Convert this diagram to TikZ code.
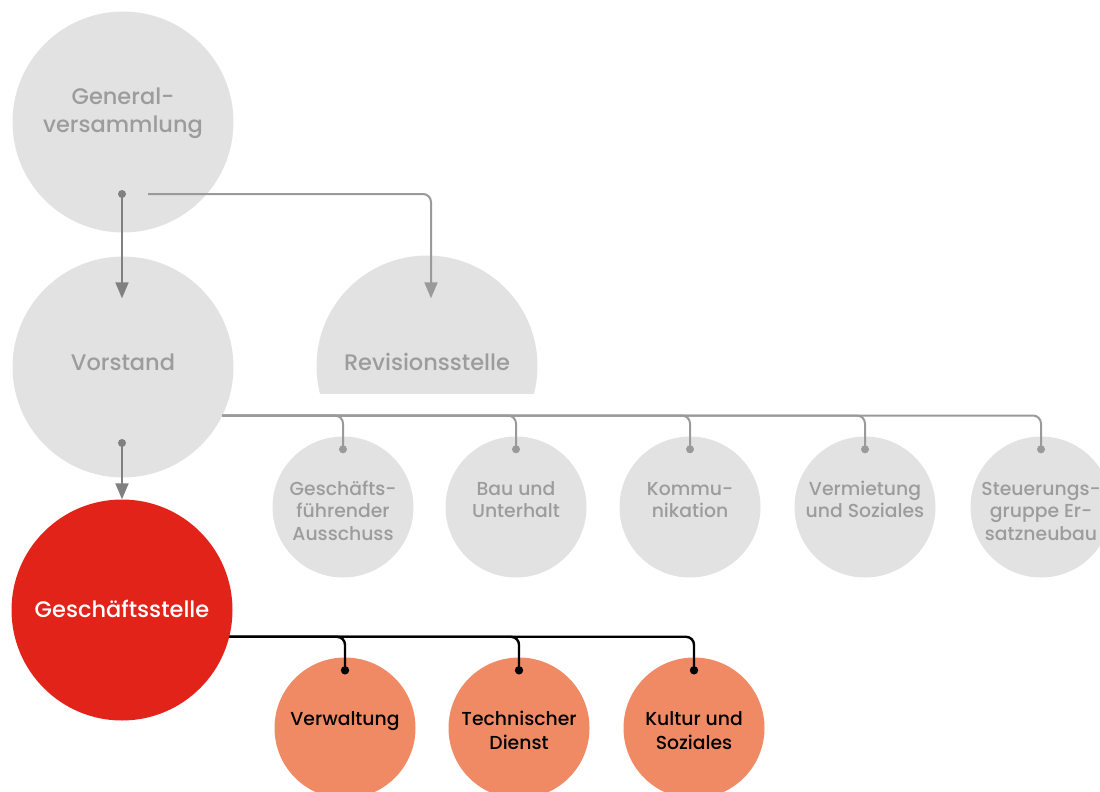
\documentclass[tikz,border=0pt]{standalone}
\usepackage{fontspec}
\setmainfont{Poppins}[UprightFont=* Medium]
\usetikzlibrary{arrows.meta,calc}

\definecolor{orggrey}{HTML}{E2E2E2}
\definecolor{orgtext}{HTML}{9C9C9C}
\definecolor{orgline}{HTML}{9A9A9A}
\definecolor{orgdark}{HTML}{808080}
\definecolor{orgred}{HTML}{E2231A}
\definecolor{orgorange}{HTML}{F08A65}

\begin{document}
\begin{tikzpicture}[x=1pt, y=-1pt, every node/.style={inner sep=0pt},
	big/.style={circle, minimum size=221pt, fill=orggrey},
	small/.style={circle, minimum size=141pt, fill=orggrey},
	bigtxt/.style={font=\fontsize{22.5}{28}\selectfont, text=orgtext, align=center, anchor=base},
	smalltxt/.style={font=\fontsize{18.8}{22.5}\selectfont, text=orgtext, align=center, anchor=base},
	link/.style={draw=orgline, line width=2pt, rounded corners=8pt},
	blacklink/.style={draw=black, line width=2.4pt, rounded corners=8pt},
	tip/.style={-{Triangle[length=16pt,width=13pt]}}]
	\useasboundingbox (0,0) rectangle (1100,792);
	\clip (0,0) rectangle (1100,792);
	\node[big] (gv) at (123,122) {};
	\node[bigtxt] (gv-t) at (123,132) {General-\\versammlung};
	\node[big] (vs) at (123,367) {};
	\node[bigtxt] (vs-t) at (123,370) {Vorstand};
	\begin{scope}
		\clip (0,0) rectangle (1100,393);
		\node[big] (rev) at (427,366) {};
	\end{scope}
	\node[bigtxt] (rev-t) at (427,370) {Revisionsstelle};
	\node[big, fill=orgred] (gs) at (122,610) {};
	\node[bigtxt, text=white] (gs-t) at (122,617) {Geschäftsstelle};

	\coordinate (gv-out) at (122,194);
	\coordinate (gv-side) at (148,194);
	\coordinate (vs-in) at ($(vs.north)+(-1,42)$);
	\coordinate (rev-in) at ($(rev.north)+(4,43)$);
	\coordinate (vs-out) at (122,443);
	\coordinate (vs-bus) at (vs.-26);
	\coordinate (gs-bus) at (gs.-14);
	\draw[orgdark, line width=2pt, tip] (gv-out) -- (vs-in);
	\fill[orgdark] (gv-out) circle (4pt);
	\draw[link, tip] (gv-side) -| (rev-in);
	\draw[orgdark, line width=2pt, tip] (vs-out) -- (gs.north);
	\fill[orgdark] (vs-out) circle (4pt);

	\foreach \x/\y/\n/\t in {343/540/gf/{Geschäfts-\\führender\\Ausschuss}, 516/517.5/bu/{Bau und\\Unterhalt}, 690/517.5/ko/{Kommu-\\nikation}, 865/517.5/vm/{Vermietung\\und Soziales}, 1041/540/sg/{Steuerungs-\\gruppe Er-\\satzneubau}}{
		\node[small] (\n) at (\x,507) {};
		\node[smalltxt] (\n-t) at (\x,\y) {\t};
		\coordinate (\n-in) at ($(\n.north)+(0,13)$);
		\draw[link] (vs-bus) -| (\n-in);
		\fill[orgline] (\n-in) circle (4pt);
	}

	\foreach \x/\y/\n/\t in {345/725/vw/{Verwaltung}, 519/749/td/{Technischer\\Dienst}, 694/749/ks/{Kultur und\\Soziales}}{
		\node[small, fill=orgorange] (\n) at (\x,728) {};
		\node[smalltxt, text=black, font=\fontsize{18.8}{24}\selectfont] (\n-t) at (\x,\y) {\t};
		\coordinate (\n-in) at ($(\n.north)+(0,13)$);
		\draw[blacklink] (gs-bus) -| (\n-in);
		\fill[black] (\n-in) circle (4.2pt);
	}
\end{tikzpicture}
\end{document}
